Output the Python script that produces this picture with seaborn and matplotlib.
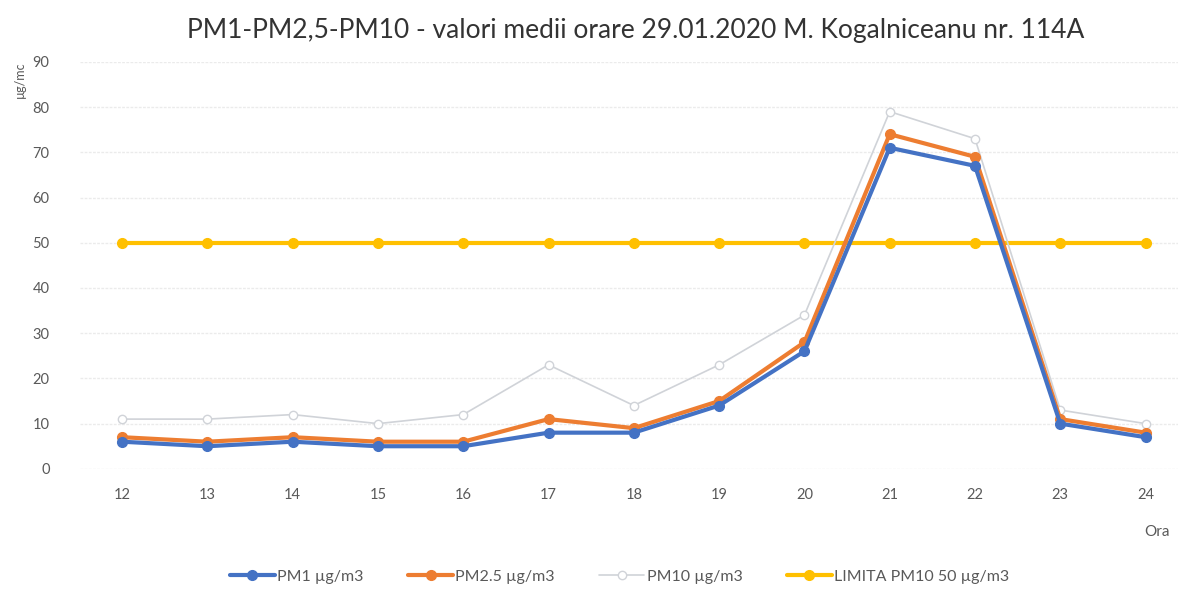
import pandas as pd
import seaborn as sns
import matplotlib.pyplot as plt

# Hourly averages
ore = [12, 13, 14, 15, 16, 17, 18, 19, 20, 21, 22, 23, 24]
pm1 = [6, 5, 6, 5, 5, 8, 8, 14, 26, 71, 67, 10, 7]
pm25 = [7, 6, 7, 6, 6, 11, 9, 15, 28, 74, 69, 11, 8]
pm10 = [11, 11, 12, 10, 12, 23, 14, 23, 34, 79, 73, 13, 10]
limita = [50] * 13

sns.set_style('white')
plt.rcParams['font.family'] = ['Lato', 'DejaVu Sans']

fig = plt.figure(figsize=(11.78, 5.89), dpi=100)
ax = fig.add_axes([0.068, 0.204, 0.932, 0.691])

series = [
    ('PM1 µg/m3', pm1, '#4472C4', 3.0, 7, '#4472C4'),
    ('PM2.5 µg/m3', pm25, '#ED7D31', 3.0, 7, '#ED7D31'),
    ('PM10 µg/m3', pm10, '#D0D3D8', 1.2, 6, 'white'),
    ('LIMITA PM10 50 µg/m3', limita, '#FFC000', 3.0, 7, '#FFC000'),
]
# draw PM10 and limit first so PM1/PM2.5 sit on top like in the original
order = [3, 2, 1, 0]
for i in order:
    name, vals, col, lw, ms, mfc = series[i]
    df = pd.DataFrame({'ora': ore, 'val': vals})
    sns.lineplot(data=df, x='ora', y='val', ax=ax, color=col, linewidth=lw,
                 marker='o', markersize=ms, markerfacecolor=mfc,
                 markeredgecolor=col, markeredgewidth=1.0, label=name, zorder=3 + (3 - i))

ax.set_xlim(11.508, 24.38)
ax.set_ylim(0, 90)
ax.set_xticks(ore)
ax.set_yticks(range(0, 91, 10))
ax.yaxis.grid(True, color='#EBEBEB', linewidth=1.0, linestyle=(0, (2, 1)))
ax.xaxis.grid(False)
for s in ax.spines.values():
    s.set_visible(False)
ax.tick_params(axis='both', length=0, labelsize=10.5, labelcolor='#595959')
ax.tick_params(axis='x', pad=14)
ax.tick_params(axis='y', pad=22)
ax.set_xlabel('')
ax.set_ylabel('')

fig.text(0.017, 0.895, 'µg/mc', rotation=90, ha='center', va='top', fontsize=9, color='#595959')
fig.text(0.982, 0.097, 'Ora', ha='center', va='center', fontsize=11, color='#595959')
fig.text(0.54, 0.949, 'PM1-PM2,5-PM10 - valori medii orare 29.01.2020 M. Kogalniceanu nr. 114A',
         ha='center', va='center', fontsize=19, color='#333333')

h, l = ax.get_legend_handles_labels()
idx = [l.index(s[0]) for s in series]
ax.legend([h[k] for k in idx], [l[k] for k in idx], loc='center', bbox_to_anchor=(0.526, 0.021),
          bbox_transform=fig.transFigure, ncol=4, frameon=False, fontsize=11.5,
          handlelength=2.8, columnspacing=2.8, labelcolor='#595959', handletextpad=0.15)

fig.savefig('out.png', dpi=100)
